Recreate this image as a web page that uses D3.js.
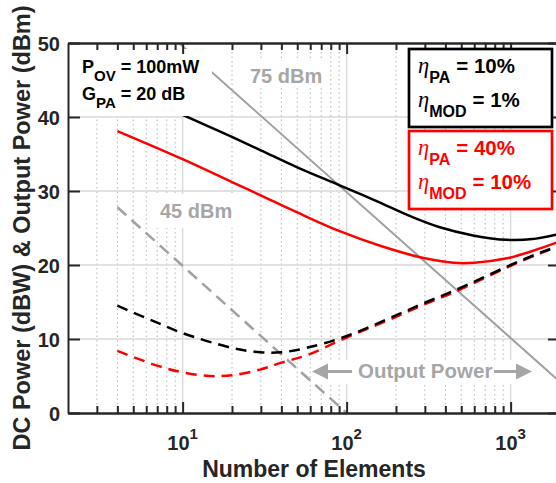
<!DOCTYPE html>
<html>
<head>
<meta charset="utf-8">
<script src="https://cdn.jsdelivr.net/npm/d3@7"></script>
<style>
  body { margin: 0; background: #fff; }
  svg { display: block; }
  text { font-family: "Liberation Sans", Arial, sans-serif; font-weight: bold; }
</style>
</head>
<body>
<div id="chart"></div>
<script>
// values: [number of elements, dB]
const blackSolid = [[4,44.3],[10,40.3],[20,37.3],[30,35.5],[50,33.2],[90,30.8],[150,28.7],
  [250,26.5],[370,25.1],[590,24.0],[950,23.4],[1360,23.5],[2000,24.2]];
const redSolid = [[4,38.1],[10,34.3],[20,31.2],[30,29.4],[50,27.1],[90,24.6],[160,22.6],
  [300,20.9],[450,20.3],[600,20.3],[950,20.9],[1360,21.9],[2000,23.2]];
const blackDashed = [[4,14.5],[7,12.2],[10,10.8],[20,8.8],[30,8.2],[40,8.2],[57,8.8],[100,10.4],
  [200,13.2],[300,14.9],[460,16.6],[1000,20.0],[1570,21.8],[2000,22.6]];
const redDashed = [[4,8.4],[7,6.4],[10,5.5],[14.6,5.0],[20,5.1],[30,5.9],[40,6.8],[57,7.8],[100,10.2],
  [200,13.0],[300,14.7],[460,16.4],[1000,19.9],[1570,21.7],[2000,22.6]];
const out75 = [[9.5,50],[2000,4.2]];
const out45 = [[4,27.8],[100,0]];

const yTicks = [0, 10, 20, 30, 40, 50];
const xMajor = [10, 100, 1000];
const xLabels = [['10','1'], ['10','2'], ['10','3']];

const width = 556, height = 483;
const axisColor = '#262626';
const gray = '#a6a6a6';

const svg = d3.select('#chart').append('svg')
  .attr('width', width)
  .attr('height', height);

const x = d3.scaleLog().domain([2, 2000]).range([68, 560]);
const y = d3.scaleLinear().domain([0, 50]).range([413, 43]);
const [plotL, plotR] = x.range();
const [plotB, plotT] = y.range();

const xMinor = x.ticks().filter(v => !xMajor.includes(v) && v > 2 && v < 2000);

// grid
const grid = svg.append('g');
grid.selectAll('.minor').data(xMinor).join('line')
  .attr('x1', d => x(d)).attr('x2', d => x(d))
  .attr('y1', plotT).attr('y2', plotB)
  .attr('stroke', '#b5b5b5').attr('stroke-width', 1)
  .attr('stroke-dasharray', '1.5,3');
grid.selectAll('.majx').data(xMajor).join('line')
  .attr('x1', d => x(d)).attr('x2', d => x(d))
  .attr('y1', plotT).attr('y2', plotB)
  .attr('stroke', '#d9d9d9').attr('stroke-width', 1.5);
grid.selectAll('.majy').data(yTicks.slice(1, -1)).join('line')
  .attr('x1', plotL).attr('x2', plotR)
  .attr('y1', d => y(d)).attr('y2', d => y(d))
  .attr('stroke', '#d9d9d9').attr('stroke-width', 1.5);

svg.append('clipPath').attr('id', 'plot')
  .append('rect').attr('x', plotL).attr('y', plotT)
  .attr('width', plotR - plotL).attr('height', plotB - plotT);

const line = d3.line()
  .x(d => x(d[0]))
  .y(d => y(d[1]))
  .curve(d3.curveCatmullRom.alpha(0.5));

const series = [
  {data: out75, color: '#a0a0a0', w: 2, dash: null},
  {data: out45, color: '#a0a0a0', w: 2.5, dash: '12,7'},
  {data: redDashed, color: '#ff0000', w: 2.5, dash: '11,7'},
  {data: blackDashed, color: '#000', w: 2.5, dash: '11,7'},
  {data: redSolid, color: '#ff0000', w: 2.5, dash: null},
  {data: blackSolid, color: '#000', w: 2.5, dash: null},
];
svg.append('g').attr('clip-path', 'url(#plot)')
  .selectAll('path').data(series).join('path')
  .attr('d', d => line(d.data))
  .attr('fill', 'none')
  .attr('stroke', d => d.color)
  .attr('stroke-width', d => d.w)
  .attr('stroke-dasharray', d => d.dash);

// annotations with white backgrounds
function whiteBox(x0, y0, w, h) {
  svg.append('rect').attr('x', x0).attr('y', y0).attr('width', w).attr('height', h).attr('fill', '#fff');
}
function subText(g, px, py, main, sub, rest, opts) {
  const t = g.append('text').attr('x', px).attr('y', py)
    .attr('fill', opts.color).attr('font-size', opts.size);
  if (opts.eta) {
    t.append('tspan').text(main)
      .attr('font-family', '"Liberation Serif", "Times New Roman", serif')
      .attr('font-style', 'italic').attr('font-weight', 'normal').attr('font-size', opts.size + 2);
  } else {
    t.append('tspan').text(main);
  }
  t.append('tspan').text(sub).attr('font-size', opts.subSize).attr('dy', opts.drop);
  t.append('tspan').text(rest).attr('dy', -opts.drop).attr('dx', opts.gap);
}

whiteBox(70, 49, 142, 67);
subText(svg, 82, 73, 'P', 'OV', '= 100mW', {color: '#000', size: 18, subSize: 15, drop: 8, gap: 5});
subText(svg, 82, 100, 'G', 'PA', '= 20 dB', {color: '#000', size: 18, subSize: 15, drop: 8, gap: 5});

whiteBox(246, 60, 82, 28);
svg.append('text').attr('x', 250).attr('y', 83).attr('fill', gray).attr('font-size', 20).text('75 dBm');
whiteBox(154, 194, 86, 34);
svg.append('text').attr('x', 160).attr('y', 218).attr('fill', gray).attr('font-size', 20).text('45 dBm');

whiteBox(315, 360, 215, 24);
svg.append('text').attr('x', 358).attr('y', 378).attr('fill', gray).attr('font-size', 20.5).text('Output Power');
const arrowY = 371.5;
svg.append('line').attr('x1', 325).attr('x2', 352).attr('y1', arrowY).attr('y2', arrowY)
  .attr('stroke', gray).attr('stroke-width', 3);
svg.append('path').attr('d', `M312,${arrowY}L328,${arrowY - 8}L328,${arrowY + 8}Z`).attr('fill', gray);
svg.append('line').attr('x1', 494).attr('x2', 519).attr('y1', arrowY).attr('y2', arrowY)
  .attr('stroke', gray).attr('stroke-width', 3);
svg.append('path').attr('d', `M532,${arrowY}L516,${arrowY - 8}L516,${arrowY + 8}Z`).attr('fill', gray);

// axes (ticks point inward)
function styleAxis(g) {
  g.selectAll('path, line').attr('stroke', axisColor).attr('stroke-width', 2);
  g.selectAll('text').remove();
}
svg.append('g').attr('transform', `translate(0,${plotB})`)
  .call(d3.axisBottom(x).tickValues(xMajor).tickSize(-11).tickSizeOuter(0).tickFormat(''))
  .call(styleAxis);
svg.append('g').attr('transform', `translate(0,${plotB})`)
  .call(d3.axisBottom(x).tickValues(xMinor).tickSize(-7).tickSizeOuter(0).tickFormat(''))
  .call(styleAxis);
svg.append('g').attr('transform', `translate(0,${plotT})`)
  .call(d3.axisTop(x).tickValues(xMajor).tickSize(-11).tickSizeOuter(0).tickFormat(''))
  .call(styleAxis);
svg.append('g').attr('transform', `translate(0,${plotT})`)
  .call(d3.axisTop(x).tickValues(xMinor).tickSize(-7).tickSizeOuter(0).tickFormat(''))
  .call(styleAxis);
svg.append('g').attr('transform', `translate(${plotL},0)`)
  .call(d3.axisLeft(y).tickValues(yTicks).tickSize(-12).tickSizeOuter(0).tickFormat(''))
  .call(styleAxis);
svg.append('g').attr('transform', `translate(${plotR},0)`)
  .call(d3.axisRight(y).tickValues(yTicks).tickSize(-12).tickSizeOuter(0).tickFormat(''))
  .call(styleAxis);

// tick labels
svg.append('g').selectAll('text').data(yTicks).join('text')
  .attr('x', plotL - 8).attr('y', d => y(d) + 7.5)
  .attr('text-anchor', 'end').attr('font-size', 20).attr('fill', axisColor)
  .text(d => d);
const xl = svg.append('g').selectAll('text').data(xMajor).join('text')
  .attr('x', d => x(d)).attr('y', 450)
  .attr('text-anchor', 'middle').attr('font-size', 20).attr('fill', axisColor);
xl.append('tspan').text((d, i) => xLabels[i][0]);
xl.append('tspan').attr('dy', -11).attr('font-size', 15).text((d, i) => xLabels[i][1]);

// axis titles
svg.append('text').attr('x', (plotL + plotR) / 2).attr('y', 477)
  .attr('text-anchor', 'middle').attr('font-size', 23).attr('fill', axisColor)
  .text('Number of Elements');
svg.append('text').attr('transform', `translate(30,${(plotT + plotB) / 2}) rotate(-90)`)
  .attr('text-anchor', 'middle').attr('font-size', 23.5).attr('fill', axisColor)
  .text('DC Power (dBW) & Output Power (dBm)');

// efficiency legend boxes
const legends = [
  {color: '#000', y0: 49, rows: [['PA', '= 10%'], ['MOD', '= 1%']]},
  {color: '#ff0000', y0: 131, rows: [['PA', '= 40%'], ['MOD', '= 10%']]},
];
legends.forEach(l => {
  svg.append('rect').attr('x', 409).attr('y', l.y0).attr('width', 143).attr('height', 78)
    .attr('fill', '#fff').attr('stroke', l.color).attr('stroke-width', 2.7);
  l.rows.forEach((r, i) => {
    subText(svg, 418, l.y0 + 24 + i * 34, 'η', r[0], r[1],
      {color: l.color, size: 20.5, subSize: 16, drop: 10, gap: 6, eta: true});
  });
});
</script>
</body>
</html>
